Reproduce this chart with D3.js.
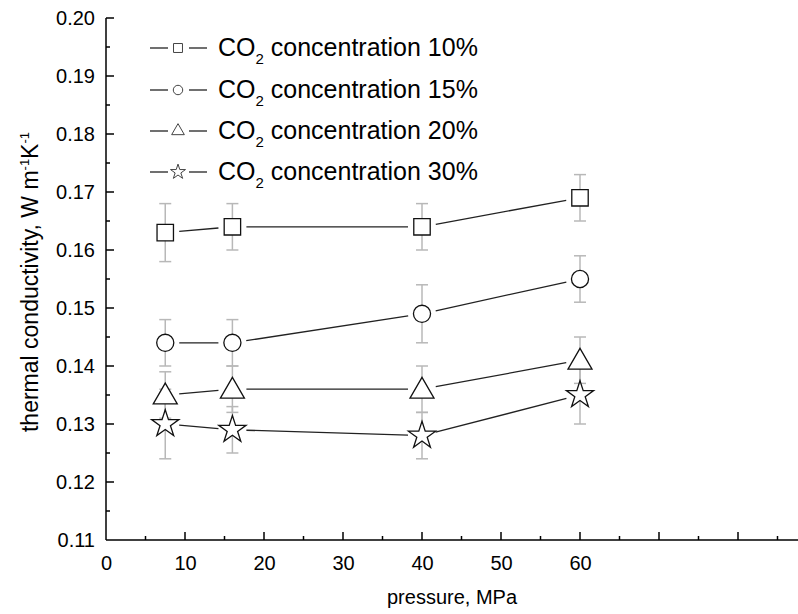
<!DOCTYPE html>
<html><head><meta charset="utf-8">
<script src="https://cdn.jsdelivr.net/npm/d3@7"></script>
<style>body{margin:0;background:#fff}svg{display:block}text{font-family:"Liberation Sans",Arial,sans-serif;fill:#000}</style>
</head><body><div id="chart"></div>
<script>
const pressures = [7.5, 16, 40, 60];
const seriesNames = ["10%", "15%", "20%", "30%"];
const conc10 = [0.163, 0.164, 0.164, 0.169];
const conc15 = [0.144, 0.144, 0.149, 0.155];
const conc20 = [0.135, 0.136, 0.136, 0.141];
const conc30 = [0.130, 0.129, 0.128, 0.135];
const err10 = [0.005, 0.004, 0.004, 0.004];
const err15 = [0.004, 0.004, 0.005, 0.004];
const err20 = [0.004, 0.004, 0.004, 0.004];
const err30 = [0.006, 0.004, 0.004, 0.005];
const xTicks = [0, 10, 20, 30, 40, 50, 60];
const yTicks = [0.11, 0.12, 0.13, 0.14, 0.15, 0.16, 0.17, 0.18, 0.19, 0.20];

const W = 798, H = 614;
const X0 = 106, Y0 = 540;
const svg = d3.select("#chart").append("svg").attr("width", W).attr("height", H);
const x = d3.scaleLinear().domain([0, 60]).range([X0, 580]);
const y = d3.scaleLinear().domain([0.11, 0.20]).range([Y0, 18]);

const symbols = [d3.symbolSquare, d3.symbolCircle, d3.symbolTriangle, d3.symbolStar];
const sizes = [270, 230, 250, 230];
const legSizes = [80, 70, 70, 70];
const series = [conc10, conc15, conc20, conc30].map((v, i) => ({
  name: seriesNames[i], values: v, errs: [err10, err15, err20, err30][i], sym: symbols[i], size: sizes[i], legSize: legSizes[i]
}));

// x axis
const xAxis = d3.axisBottom(x).tickValues(xTicks).tickSize(0).tickPadding(16).tickFormat(d3.format("d"));
const gx = svg.append("g").attr("transform", `translate(0,${Y0})`).call(xAxis);
gx.select(".domain").remove();
gx.selectAll("text").attr("font-size", 20).attr("font-family", "Liberation Sans, Arial, sans-serif");
svg.append("line").attr("x1", X0).attr("x2", W).attr("y1", Y0).attr("y2", Y0).attr("stroke", "#000").attr("stroke-width", 1.5);
const xMinor = d3.range(5, 90, 5);
svg.append("g").selectAll("line").data(xMinor).join("line")
  .attr("x1", d => x(d)).attr("x2", d => x(d))
  .attr("y1", Y0).attr("y2", d => Y0 - (d % 10 === 0 ? 8 : 4))
  .attr("stroke", "#000").attr("stroke-width", 1.5);

// y axis
const yAxis = d3.axisLeft(y).tickValues(yTicks).tickSize(0).tickPadding(11).tickFormat(d3.format(".2f"));
const gy = svg.append("g").attr("transform", `translate(${X0},0)`).call(yAxis);
gy.select(".domain").remove();
gy.selectAll("text").attr("font-size", 20).attr("font-family", "Liberation Sans, Arial, sans-serif");
svg.append("line").attr("x1", X0).attr("x2", X0).attr("y1", Y0).attr("y2", 18).attr("stroke", "#000").attr("stroke-width", 1.5);
const yMinor = d3.range(1, 19).map(i => 0.11 + i * 0.005);
svg.append("g").selectAll("line").data(yMinor).join("line")
  .attr("x1", X0).attr("x2", (d, i) => X0 + (i % 2 === 1 ? 8 : 4))
  .attr("y1", d => y(d)).attr("y2", d => y(d))
  .attr("stroke", "#000").attr("stroke-width", 1.5);

// titles
svg.append("text").attr("x", 452).attr("y", 604).attr("text-anchor", "middle").attr("font-size", 20).text("pressure, MPa");
const yt = svg.append("text").attr("transform", "translate(38,282) rotate(-90)").attr("text-anchor", "middle").attr("font-size", 23);
yt.append("tspan").text("thermal conductivity, W m");
yt.append("tspan").attr("font-size", 13).attr("dy", -9).text("-1");
yt.append("tspan").attr("dy", 9).text("K");
yt.append("tspan").attr("font-size", 13).attr("dy", -9).text("-1");

// error bars
series.forEach(s => {
  s.values.forEach((v, i) => {
    const cx = x(pressures[i]);
    const g = svg.append("g").attr("stroke", "#b8b8b8").attr("stroke-width", 1.5);
    g.append("line").attr("x1", cx).attr("x2", cx).attr("y1", y(v - s.errs[i])).attr("y2", y(v + s.errs[i]));
    [v - s.errs[i], v + s.errs[i]].forEach(e => {
      g.append("line").attr("x1", cx - 6).attr("x2", cx + 6).attr("y1", y(e)).attr("y2", y(e));
    });
  });
});

// lines with gaps
const gap = 14;
series.forEach(s => {
  for (let i = 0; i < s.values.length - 1; i++) {
    const x1 = x(pressures[i]), y1 = y(s.values[i]);
    const x2 = x(pressures[i + 1]), y2 = y(s.values[i + 1]);
    const L = Math.hypot(x2 - x1, y2 - y1);
    const ux = (x2 - x1) / L, uy = (y2 - y1) / L;
    svg.append("line").attr("x1", x1 + ux * gap).attr("y1", y1 + uy * gap)
      .attr("x2", x2 - ux * gap).attr("y2", y2 - uy * gap)
      .attr("stroke", "#222").attr("stroke-width", 1.3);
  }
});

// markers
series.forEach(s => {
  svg.append("g").selectAll("path").data(s.values).join("path")
    .attr("d", d3.symbol().type(s.sym).size(s.size))
    .attr("transform", (d, i) => `translate(${x(pressures[i])},${y(d) + (s.sym === d3.symbolTriangle ? 2 : 0)})`)
    .attr("fill", "#fff").attr("stroke", "#111").attr("stroke-width", 1.3);
});

// legend
const legY = [48, 90, 131, 172];
series.forEach((s, i) => {
  const ly = legY[i];
  const g = svg.append("g");
  g.append("line").attr("x1", 150).attr("x2", 168).attr("y1", ly).attr("y2", ly).attr("stroke", "#222").attr("stroke-width", 1.3);
  g.append("line").attr("x1", 189).attr("x2", 207).attr("y1", ly).attr("y2", ly).attr("stroke", "#222").attr("stroke-width", 1.3);
  g.append("path").attr("d", d3.symbol().type(s.sym).size(s.legSize)).attr("transform", `translate(178,${ly})`)
    .attr("fill", "#fff").attr("stroke", "#444").attr("stroke-width", 1);
  const t = g.append("text").attr("x", 218).attr("y", ly + 8).attr("font-size", 25);
  t.append("tspan").text("CO");
  t.append("tspan").attr("font-size", 15).attr("dy", 8).text("2");
  t.append("tspan").attr("dy", -8).text(" concentration " + s.name);
});
</script></body></html>
